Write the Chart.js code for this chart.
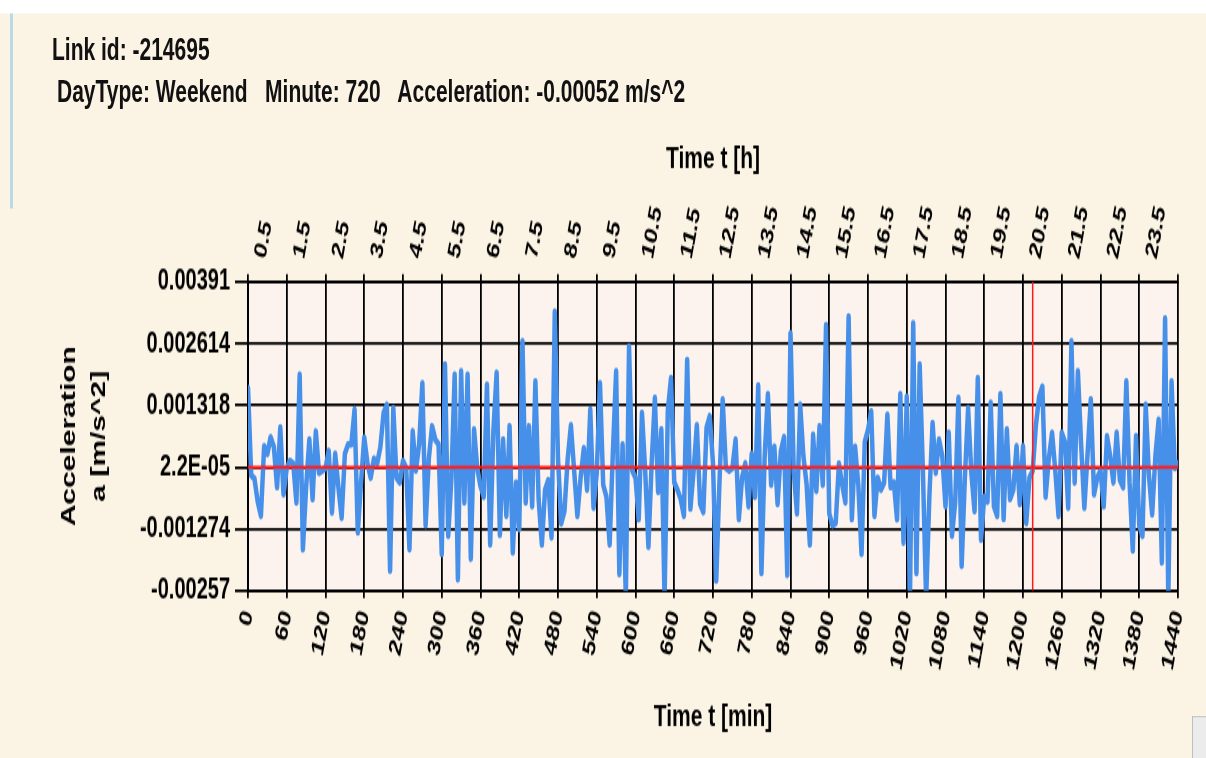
<!DOCTYPE html>
<html>
<head>
<meta charset="utf-8">
<script src="https://cdn.jsdelivr.net/npm/chart.js@4/dist/chart.umd.min.js"></script>
<style>
  html, body { margin: 0; padding: 0; background: #fbf3e4; overflow: hidden; }
  /* the reference is a vertically stretched screenshot: draw flat, then stretch */
  #page { position: absolute; left: 0; top: 0; width: 1206px; height: 506px;
          transform: scaleY(1.5); transform-origin: 0 0; }
  #chrome-top { position: absolute; left: 0; top: 0; width: 1206px; height: 9px; background: #ffffff; }
  #chrome-left { position: absolute; left: 10px; top: 9px; width: 3px; height: 130px; background: #bcd9e6; }
  #chrome-scroll { position: absolute; left: 1192px; top: 477px; width: 14px; height: 29px;
                   background: #ececec; border-left: 1px solid #bdbdbd; border-top: 1px solid #bdbdbd; }
  .head { position: absolute; font: bold 21px "Liberation Sans", Arial, sans-serif; color: #111;
          white-space: pre; line-height: 24px; }
  #chart { position: absolute; left: 0; top: 0; }
</style>
</head>
<body>
<div id="page">
  <div id="chrome-top"></div>
  <div id="chrome-left"></div>
  <canvas id="chart" width="1206" height="506"></canvas>
  <div class="head" style="left:52px; top:21px;">Link id: -214695</div>
  <div class="head" style="left:57px; top:49px;">DayType: Weekend   Minute: 720   Acceleration: -0.00052 m/s^2</div>
  <div id="chrome-scroll"></div>
</div>
<script>
// acceleration, one sample every 5 minutes (0 .. 1440)
const MINUTE_STEP = 5;
const ACCEL = [
  0.00168, -0.00015, -0.00022, -0.0007, -0.001, 0.00046, 0.0003, 0.00065, 0.00045, -0.0004, 0.00085, -0.00055,
  0, 0.00015, 0.0001, -0.00072, 0.00196, -0.0017, -0.0004, 0.0006, -0.00065, 0.00077, -0.0001, -0.00005,
  0, 0.00036, -0.00093, 0.0003, -0.0004, -0.00104, 0.0003, 0.0005, 0.0005, 0.00123, -0.00135, -0.0003,
  0.00064, 0.0001, -0.0002, 0.0002, 0.0001, 0.00045, 0.00116, 0.00133, -0.00215, 0.00126, -0.0002, -0.0003,
  0.00015, 0, -0.0017, 0.00077, -0.00005, 0.0005, 0.00178, -0.0012, 0.0002, 0.00088, 0.0006, 0.0005,
  -0.0018, 0.00217, -0.00142, -0.0002, 0.00196, -0.00233, 0.00203, -0.00072, 0.00196, -0.0019, 0.00081, 0,
  -0.00038, -0.0006, 0.00175, -0.0016, 0.0008, 0.002, -0.0014, 0.0006, -0.001, 0.00088, -0.00177, -0.0003,
  -0.00128, 0.00266, -0.00072, 0.00088, -0.0008, 0.00182, -0.00065, -0.0016, -0.00045, -0.00025, -0.00145, 0.00328,
  0.0002, -0.00116, -0.0009, 0.0002, 0.0009, -0.00005, -0.001, -0.0002, 0.00042, -0.00045, 0.00123, -0.00083,
  -0.0001, 0.00178, -0.00035, -0.0006, -0.0016, 0.00035, 0.00203, -0.00222, 0.0005, -0.00275, 0.00255, -0.00005,
  -0.0002, -0.00107, 0.00116, -0.00005, -0.00165, 0.0001, 0.00147, -0.0005, 0.00081, -0.00275, 0.0012, 0.00189,
  -0.0003, -0.00045, -0.00065, -0.001, 0.00227, -0.00085, -0.00005, 0.0009, -0.00075, -0.00092, 0.00085, 0.00109,
  0.0001, -0.00236, -0.0003, 0.00144, 0, -0.00005, 0, 0.0006, -0.00107, -0.0002, 0.0001, -0.0008,
  0.0003, -0.0006, 0.00173, -0.0022, 0.00025, 0.00155, -0.00035, 0.00045, -0.00075, 0.00035, 0.00065, -0.00224,
  0.00283, -0.00005, -0.00095, 0.00133, 0.00025, -0.00035, -0.0016, 0.0007, -0.00048, 0.00088, -0.00035, 0.003,
  -0.00095, -0.0012, -0.00115, 0.0001, -0.00035, -0.00072, 0.00318, -0.00107, 0.00045, -0.00035, -0.0018, 0.00055,
  0.0008, 0.00119, -0.001, -0.0002, -0.00045, -0.0003, 0.00112, -0.0004, -0.0003, -0.00107, 0.00155, -0.00156,
  0.0015, -0.00275, 0.00304, -0.0022, 0.00217, -0.00005, -0.00275, -0.0006, 0.00095, -0.0001, 0.0006, 0.00025,
  -0.0008, 0.00074, -0.00142, -0.00072, 0.00147, -0.00205, -0.0002, 0.00126, -0.0001, -0.0009, 0.00189, -0.0015,
  -0.0006, -0.0007, 0.00137, -0.0008, -0.001, 0.00155, -0.00107, 0.00081, -0.00065, -0.00045, 0.00046, -0.00075,
  0.00046, -0.00115, -0.0002, -0.00005, 0.0009, 0.0015, 0.00171, -0.0006, 0.0002, 0.00074, -0.00005, -0.001,
  0.00074, 0.00055, -0.00083, 0.00266, -0.0003, 0.00203, 0.0005, -0.00083, 0.0003, 0.00144, -0.00055, -0.0002,
  -0.00005, -0.0008, 0.00067, 0.00025, -0.0003, 0.00074, -0.00025, -0.0004, 0.00182, -0.0003, -0.00173, 0.00067,
  -0.0012, -0.00142, 0.00133, -0.00015, -0.00097, 0.00025, 0.00102, -0.00198, 0.00314, -0.00275, 0.00182, 0,
  0.0001
];
const MINUTES = ACCEL.map((_, i) => i * MINUTE_STEP);

const Y_TICKS = [0.00391, 0.002614, 0.001318, 0.000022, -0.001274, -0.00257];
const Y_TICK_LABELS = ["0.00391", "0.002614", "0.001318", "2.2E-05", "-0.001274", "-0.00257"];
const MIN_TICKS = [0, 60, 120, 180, 240, 300, 360, 420, 480, 540, 600, 660, 720,
                   780, 840, 900, 960, 1020, 1080, 1140, 1200, 1260, 1320, 1380, 1440];
const HOUR_TICKS = [0, 0.5, 1, 1.5, 2, 2.5, 3, 3.5, 4, 4.5, 5, 5.5, 6, 6.5, 7, 7.5, 8, 8.5, 9, 9.5,
                    10, 10.5, 11, 11.5, 12, 12.5, 13, 13.5, 14, 14.5, 15, 15.5, 16, 16.5, 17, 17.5,
                    18, 18.5, 19, 19.5, 20, 20.5, 21, 21.5, 22, 22.5, 23, 23.5, 24];
const MEAN_ACCEL = 0.000022;   // red horizontal line
const CURSOR_MIN = 1215;       // red vertical cursor

const FONT = '"Liberation Sans", Arial, sans-serif';
const Y_MIN = -0.00257, Y_MAX = 0.00391;

/* fond rose pâle de la zone de tracé */
const plotBg = {
  id: "plotBg",
  beforeDraw(chart) {
    const { ctx, chartArea: a } = chart;
    ctx.save();
    ctx.fillStyle = "#fdf3ee";
    ctx.fillRect(a.left, a.top, a.width, a.height);
    ctx.restore();
  },
};

const tickFont = { family: FONT, size: 18, weight: "bold" };

new Chart(document.getElementById("chart"), {
  type: "line",
  data: {
    datasets: [
      {
        data: [{ x: 0, y: MEAN_ACCEL }, { x: 1440, y: MEAN_ACCEL }],
        borderColor: "#ff1a1a", borderWidth: 2, pointRadius: 0, order: 0, clip: 0,
      },
      {
        data: [{ x: CURSOR_MIN, y: Y_MIN }, { x: CURSOR_MIN, y: Y_MAX }],
        borderColor: "#ff1a1a", borderWidth: 1.5, pointRadius: 0, order: 0, clip: 0,
      },
      {
        data: MINUTES.map((m, i) => ({ x: m, y: ACCEL[i] })),
        borderColor: "#4790ea", borderWidth: 4.5, pointRadius: 0, tension: 0,
        borderJoinStyle: "round", borderCapStyle: "round", order: 1, clip: 0,
      },
    ],
  },
  options: {
    responsive: false,
    animation: false,
    devicePixelRatio: 1,
    layout: { padding: { left: 0, top: 0, right: 28, bottom: 0 } },
    plugins: { legend: { display: false }, tooltip: { enabled: false } },
    scales: {
      x: {
        type: "linear", position: "bottom", min: 0, max: 1440,
        afterBuildTicks: (s) => { s.ticks = MIN_TICKS.map((v) => ({ value: v })); },
        afterFit: (s) => { s.height = 112.2; },
        grid: { color: "#000", lineWidth: 1.8, tickLength: 5 },
        border: { color: "#000", width: 2 },
        ticks: {
          autoSkip: false, minRotation: 75, maxRotation: 75, padding: 6, color: "#000", font: tickFont,
          callback: (v) => String(v),
        },
        title: { display: true, text: "Time t [min]", color: "#000",
                 font: { family: FONT, size: 21, weight: "bold" }, padding: { top: 0, bottom: 15 } },
      },
      xh: {
        type: "linear", position: "top", min: 0, max: 24,
        afterBuildTicks: (s) => { s.ticks = HOUR_TICKS.map((v) => ({ value: v })); },
        afterFit: (s) => { s.height = 187.8; },
        grid: {
          drawOnChartArea: false, tickLength: 5, lineWidth: 1.8,
          color: (c) => (c.tick && Number.isInteger(c.tick.value) ? "#000" : "rgba(0,0,0,0)"),
        },
        border: { color: "#000", width: 2 },
        ticks: {
          autoSkip: false, minRotation: 75, maxRotation: 75, padding: 8, labelOffset: 14,
          color: "#000", font: tickFont,
          callback: (v) => (Number.isInteger(v) ? "" : v.toFixed(1)),
        },
        title: { display: true, text: "Time t [h]", color: "#000",
                 font: { family: FONT, size: 21, weight: "bold" }, padding: { top: 94, bottom: 0 } },
      },
      y: {
        type: "linear", min: Y_MIN, max: Y_MAX,
        afterBuildTicks: (s) => { s.ticks = Y_TICKS.slice().reverse().map((v) => ({ value: v })); },
        afterFit: (s) => { s.width = 248; },
        grid: { color: "#000", lineWidth: 1.8, tickLength: 13 },
        border: { color: "#000", width: 2 },
        ticks: {
          padding: 5, color: "#000", font: { family: FONT, size: 20, weight: "bold" },
          callback: (v) => Y_TICK_LABELS[Y_TICKS.indexOf(v)],
        },
        title: { display: true, text: ["Acceleration", "a [m/s^2]"], color: "#000",
                 font: { family: FONT, size: 20, weight: "bold", lineHeight: 1.5 }, padding: { top: 54, bottom: 0 } },
      },
    },
  },
  plugins: [plotBg],
});
</script>
</body>
</html>
